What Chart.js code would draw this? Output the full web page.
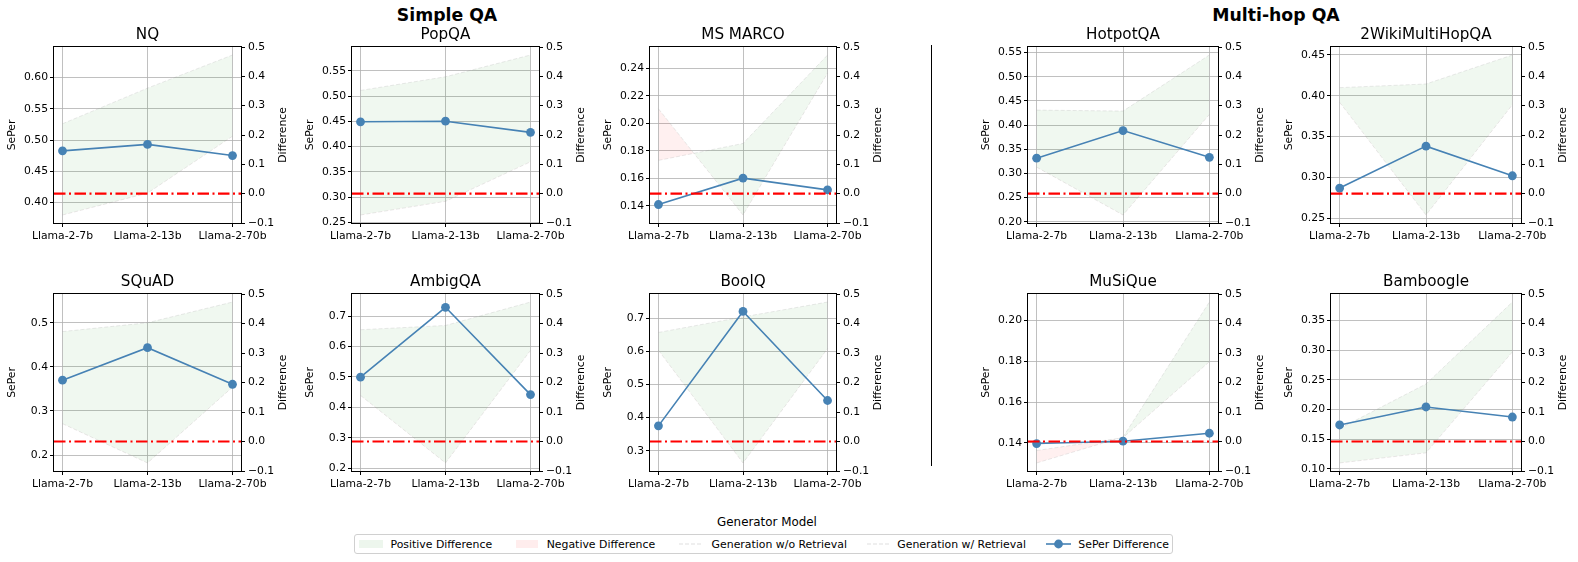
<!DOCTYPE html>
<html>
<head>
<meta charset="utf-8">
<script src="https://cdn.jsdelivr.net/npm/chart.js@4.4.1/dist/chart.umd.min.js"></script>
<style>
  body { margin: 0; width: 1578px; height: 562px; background: #fff; position: relative; overflow: hidden;
         font-family: "DejaVu Sans", sans-serif; color: #000; }
  .panel { position: absolute; }
  .txt { position: absolute; white-space: nowrap; transform: translate(-50%, -50%); }
  .lg { position: absolute; white-space: nowrap; top: 544px; transform: translateY(-50%); font-size: 10.9px; }
  .sw { position: absolute; top: 539.5px; height: 8.5px; }
</style>
</head>
<body>
<div class="txt" style="left:447px;top:15px;font-size:17.3px;font-weight:bold">Simple QA</div>
<div class="txt" style="left:1276px;top:15px;font-size:17.3px;font-weight:bold">Multi-hop QA</div>
<div style="position:absolute;left:931px;top:45px;width:1px;height:421px;background:#000"></div>
<div class="txt" style="left:767px;top:521.5px;font-size:11.9px">Generator Model</div>

<!-- legend -->
<div style="position:absolute;left:354px;top:534px;width:819px;height:20px;border:1px solid #d0d0d0;border-radius:3px;box-sizing:border-box"></div>
<div class="sw" style="left:359px;width:23.5px;background:rgba(0,128,0,0.07)"></div>
<div class="lg" style="left:390.5px">Positive Difference</div>
<div class="sw" style="left:515.7px;width:22.7px;background:rgba(255,0,0,0.07)"></div>
<div class="lg" style="left:546.7px">Negative Difference</div>
<svg style="position:absolute;left:679px;top:540px" width="24" height="8"><line x1="0" y1="4" x2="24" y2="4" stroke="rgba(150,150,150,0.3)" stroke-width="1" stroke-dasharray="4,2"/></svg>
<div class="lg" style="left:711.6px">Generation w/o Retrieval</div>
<svg style="position:absolute;left:866.7px;top:540px" width="22" height="8"><line x1="0" y1="4" x2="22" y2="4" stroke="rgba(150,150,150,0.3)" stroke-width="1" stroke-dasharray="4,2"/></svg>
<div class="lg" style="left:897.3px">Generation w/ Retrieval</div>
<svg style="position:absolute;left:1045.7px;top:538px" width="25" height="12"><line x1="0" y1="6" x2="25" y2="6" stroke="#4682b4" stroke-width="1.6"/><circle cx="12.5" cy="6" r="4.4" fill="#4682b4"/></svg>
<div class="lg" style="left:1078.3px">SePer Difference</div>

<script>
const models = ['Llama-2-7b', 'Llama-2-13b', 'Llama-2-70b'];
const datasetNames = ['NQ', 'PopQA', 'MS MARCO', 'SQuAD', 'AmbigQA', 'BoolQ',
                      'HotpotQA', '2WikiMultiHopQA', 'MuSiQue', 'Bamboogle'];

// SePer, generation without retrieval (7b, 13b, 70b) per dataset
const seperNoRetrieval = [
  [0.380, 0.415, 0.506],
  [0.265, 0.292, 0.370],
  [0.2105, 0.1333, 0.2364],
  [0.271, 0.182, 0.354],
  [0.439, 0.217, 0.587],
  [0.604, 0.263, 0.609],
  [0.313, 0.214, 0.422],
  [0.392, 0.254, 0.389],
  [0.1362, 0.1425, 0.1798],
  [0.110, 0.127, 0.297]
];
// SePer, generation with retrieval
const seperRetrieval = [
  [0.526, 0.583, 0.636],
  [0.511, 0.538, 0.581],
  [0.173, 0.1853, 0.2496],
  [0.480, 0.500, 0.547],
  [0.655, 0.669, 0.746],
  [0.658, 0.705, 0.750],
  [0.431, 0.429, 0.545],
  [0.410, 0.4145, 0.450],
  [0.1301, 0.1428, 0.2091],
  [0.168, 0.243, 0.381]
];
// SePer difference (right axis)
const seperDiff = [
  [0.146, 0.168, 0.130],
  [0.245, 0.247, 0.209],
  [-0.037, 0.053, 0.013],
  [0.208, 0.318, 0.194],
  [0.218, 0.455, 0.159],
  [0.053, 0.441, 0.139],
  [0.121, 0.215, 0.124],
  [0.019, 0.162, 0.061],
  [-0.007, 0.001, 0.028],
  [0.056, 0.117, 0.083]
];

// layout
const leftStep = [0.05, 0.05, 0.02, 0.1, 0.1, 0.1, 0.05, 0.05, 0.02, 0.05];
const panelCol = [0, 1, 2, 0, 1, 2, 3, 4, 3, 4];
const panelRow = [0, 0, 0, 1, 1, 1, 0, 0, 1, 1];
const colLeft = [54, 352, 650, 1028, 1331];
const colRight = [241, 539, 836, 1218, 1521];
const rowTop = [47, 294];
const rowBottom = [223, 471];
const L_AX = 52, R_AX = 53, TOP = 30, BOT = 32;

const FONT = 'DejaVu Sans';
const gridColor = 'rgba(176,176,176,0.8)';
const faint = 'rgba(150,150,150,0.2)';
Chart.defaults.font.family = FONT;
Chart.defaults.color = '#000';

const zeroLine = {
  id: 'zeroLine',
  afterDatasetsDraw(chart) {
    const {ctx, chartArea: a, scales} = chart;
    const y = scales.y2.getPixelForValue(0);
    ctx.save();
    ctx.strokeStyle = '#ff0000';
    ctx.lineWidth = 2.2;
    ctx.setLineDash([11.5, 3.5, 2, 3.5]);
    ctx.beginPath();
    ctx.moveTo(a.left, y);
    ctx.lineTo(a.right, y);
    ctx.stroke();
    ctx.restore();
  }
};

const frame = {
  id: 'frame',
  afterDraw(chart) {
    const {ctx, chartArea: a} = chart;
    ctx.save();
    ctx.strokeStyle = '#000';
    ctx.lineWidth = 1;
    ctx.strokeRect(Math.round(a.left) - 0.5, Math.round(a.top) - 0.5,
                   Math.round(a.width) + 1, Math.round(a.height) + 1);
    // right axis label, reads bottom to top like matplotlib
    ctx.fillStyle = '#000';
    ctx.font = '10.8px "' + FONT + '"';
    ctx.translate(a.right + 42.5, (a.top + a.bottom) / 2);
    ctx.rotate(-Math.PI / 2);
    ctx.textAlign = 'center';
    ctx.textBaseline = 'middle';
    ctx.fillText('Difference', 0, 0);
    ctx.restore();
  }
};

function pts(arr) {
  return arr.map((v, k) => ({x: k, y: v}));
}

function paddedRange(a, b) {
  const all = a.concat(b);
  const lo = Math.min(...all), hi = Math.max(...all);
  const m = (hi - lo) * 0.05;
  return [lo - m, hi + m];
}

function fmtDiff(v) {
  if (Math.abs(v) < 1e-9) v = 0;
  return v.toFixed(1).replace('-', '\u2212');
}

datasetNames.forEach((name, i) => {
  const c = panelCol[i], r = panelRow[i];
  const div = document.createElement('div');
  div.className = 'panel';
  div.style.left = (colLeft[c] - L_AX) + 'px';
  div.style.top = (rowTop[r] - TOP) + 'px';
  div.style.width = (colRight[c] - colLeft[c] + L_AX + R_AX) + 'px';
  div.style.height = (rowBottom[r] - rowTop[r] + TOP + BOT) + 'px';
  const cv = document.createElement('canvas');
  div.appendChild(cv);
  document.body.appendChild(div);

  const [ymin, ymax] = paddedRange(seperNoRetrieval[i], seperRetrieval[i]);
  const dec = leftStep[i] >= 0.1 ? 1 : 2;
  const tickFont = {family: FONT, size: 10.8};

  new Chart(cv.getContext('2d'), {
    type: 'line',
    data: {
      datasets: [
        {
          label: 'Generation w/o Retrieval',
          data: pts(seperNoRetrieval[i]),
          yAxisID: 'y',
          borderColor: faint,
          borderWidth: 1,
          borderDash: [4, 2],
          pointRadius: 0,
          fill: false,
          order: 3
        },
        {
          label: 'Generation w/ Retrieval',
          data: pts(seperRetrieval[i]),
          yAxisID: 'y',
          borderColor: faint,
          borderWidth: 1,
          borderDash: [4, 2],
          pointRadius: 0,
          fill: {target: 0, above: 'rgba(0,128,0,0.06)', below: 'rgba(255,0,0,0.06)'},
          order: 2
        },
        {
          label: 'SePer Difference',
          data: pts(seperDiff[i]),
          yAxisID: 'y2',
          borderColor: '#4682b4',
          backgroundColor: '#4682b4',
          borderWidth: 1.6,
          pointRadius: 4.4,
          pointBorderWidth: 0,
          pointHoverRadius: 4.4,
          fill: false,
          order: 1
        }
      ]
    },
    options: {
      responsive: true,
      maintainAspectRatio: false,
      animation: false,
      events: [],
      layout: {padding: 0},
      plugins: {
        legend: {display: false},
        tooltip: {enabled: false},
        title: {
          display: true,
          text: name,
          fullSize: false,
          color: '#000',
          font: {family: FONT, size: 15.2, weight: 'normal', lineHeight: 1.2},
          padding: {top: 9, bottom: TOP - 9 - 15.2 * 1.2}
        }
      },
      scales: {
        x: {
          type: 'linear',
          position: 'bottom',
          min: -0.1,
          max: 2.1,
          ticks: {
            stepSize: 1,
            includeBounds: false,
            autoSkip: false,
            maxRotation: 0,
            padding: 3,
            font: tickFont,
            color: '#000',
            callback: v => models[v]
          },
          grid: {color: gridColor, lineWidth: 1, tickColor: '#000', tickLength: 4, tickWidth: 1},
          border: {display: false},
          afterFit: s => { s.height = BOT; }
        },
        y: {
          position: 'left',
          min: ymin,
          max: ymax,
          ticks: {
            stepSize: leftStep[i],
            includeBounds: false,
            padding: 2,
            font: tickFont,
            color: '#000',
            callback: v => v.toFixed(dec)
          },
          grid: {color: gridColor, lineWidth: 1, tickColor: '#000', tickLength: 4, tickWidth: 1},
          border: {display: false},
          title: {display: true, text: 'SePer', color: '#000', font: {family: FONT, size: 10.8}, padding: {top: 4, bottom: 0}},
          afterFit: s => { s.width = L_AX; }
        },
        y2: {
          position: 'right',
          min: -0.1,
          max: 0.5,
          ticks: {
            stepSize: 0.1,
            includeBounds: false,
            padding: 3,
            font: tickFont,
            color: '#000',
            callback: fmtDiff
          },
          grid: {drawOnChartArea: false, tickColor: '#000', tickLength: 4, tickWidth: 1},
          border: {display: false},
          afterFit: s => { s.width = R_AX; }
        }
      }
    },
    plugins: [zeroLine, frame]
  });
});
</script>
</body>
</html>
